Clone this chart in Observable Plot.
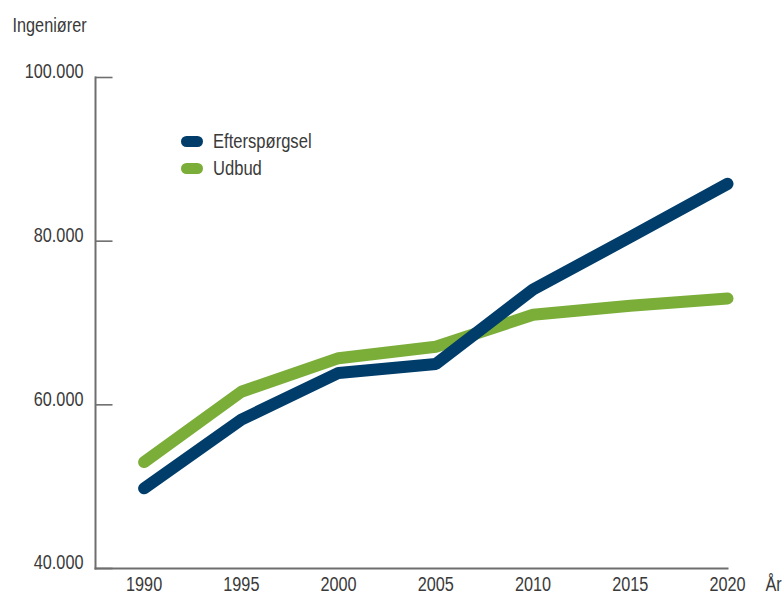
<!DOCTYPE html>
<html>
<head>
<meta charset="utf-8">
<script src="https://cdn.jsdelivr.net/npm/d3@7"></script>
<script src="https://cdn.jsdelivr.net/npm/@observablehq/plot@0.6"></script>
<style>
  html, body { margin: 0; padding: 0; background: #fff; }
  #wrap { position: relative; width: 783px; height: 597px; font-family: "Liberation Sans", Arial, sans-serif; color: #3a3a3a; }
  .leg { position: absolute; left: 181px; height: 20px; display: flex; align-items: center; font-size: 19.5px; line-height: 20px; white-space: nowrap; }
  .pill { display: inline-block; width: 22px; height: 11px; border-radius: 6px; margin-right: 10px; flex: none; }
  .lab { display: inline-block; transform: scaleX(0.85); transform-origin: 0 50%; }
</style>
</head>
<body>
<div id="wrap"></div>
<script>
const years = [1990, 1995, 2000, 2005, 2010, 2015, 2020];
const efterspoergsel = [49800, 58200, 63900, 65000, 74100, 80500, 87000];
const udbud = [53000, 61600, 65700, 67100, 71000, 72100, 73000];
const seriesNames = ["Efterspørgsel", "Udbud"];
const seriesColors = ["#003d6b", "#7bae38"];
const yTicks = [40000, 60000, 80000, 100000];
const xTicks = years;
const yTitle = "Ingeniører";
const xTitle = "År";

const rows = [];
years.forEach((yr, i) => {
  rows.push({year: yr, value: efterspoergsel[i], series: seriesNames[0]});
  rows.push({year: yr, value: udbud[i], series: seriesNames[1]});
});

const fmt = d3.formatLocale({decimal: ",", thousands: ".", grouping: [3], currency: ["", ""]}).format(",d");
const axisColor = "#6e6e6e";
const textColor = "#3a3a3a";
const fontFam = '"Liberation Sans", Arial, sans-serif';
const narrow = 0.775;
const fs = 21;

const chart = Plot.plot({
  width: 783,
  height: 597,
  marginLeft: 95,
  marginRight: 56,
  marginTop: 77,
  marginBottom: 29,
  style: {fontFamily: fontFam, color: textColor, background: "#fff"},
  x: {domain: [1987.5, 2020], axis: null},
  y: {domain: [40000, 100000], axis: null},
  color: {domain: seriesNames, range: seriesColors},
  marks: [
    Plot.frame({anchor: "left", stroke: axisColor, strokeWidth: 2}),
    Plot.frame({anchor: "bottom", stroke: axisColor, strokeWidth: 2}),
    Plot.ruleY(yTicks, {stroke: axisColor, strokeWidth: 1.6, insetRight: 614.5}),
    Plot.ruleX(xTicks, {stroke: axisColor, strokeWidth: 1.6, insetTop: 491}),
    Plot.text(yTicks, {
      frameAnchor: "left", y: d => d, text: d => fmt(d),
      textAnchor: "end", lineAnchor: "middle", dx: -12, dy: -6, fontSize: fs, fill: textColor
    }),
    Plot.text(xTicks, {
      x: d => d, frameAnchor: "bottom", text: d => String(d),
      lineAnchor: "top", dy: 8, fontSize: fs, fill: textColor
    }),
    Plot.text([xTitle], {
      frameAnchor: "bottom-right", text: d => d, textAnchor: "start",
      lineAnchor: "top", dx: 38, dy: 8, fontSize: fs, fill: textColor
    }),
    Plot.text([yTitle], {
      frameAnchor: "top-left", text: d => d, textAnchor: "start",
      lineAnchor: "middle", dx: -83, dy: -52.5, fontSize: fs, fill: textColor
    }),
    Plot.line(rows.filter(d => d.series === seriesNames[1]), {
      x: "year", y: "value", stroke: "series", strokeWidth: 12,
      strokeLinecap: "round", strokeLinejoin: "miter"
    }),
    Plot.line(rows.filter(d => d.series === seriesNames[0]), {
      x: "year", y: "value", stroke: "series", strokeWidth: 12,
      strokeLinecap: "round", strokeLinejoin: "miter"
    })
  ]
});

// condense the text horizontally around each anchor point (mimics a condensed typeface)
chart.querySelectorAll("text").forEach(t => {
  const tr = t.getAttribute("transform") || "";
  const x = parseFloat(t.getAttribute("x")) || 0;
  t.setAttribute("transform", `${tr} translate(${x},0) scale(${narrow},1) translate(${-x},0)`);
});

const wrap = document.getElementById("wrap");
wrap.appendChild(chart);

const legTops = [131, 158];
seriesNames.forEach((name, i) => {
  const item = document.createElement("div");
  item.className = "leg";
  item.style.top = legTops[i] + "px";
  const pill = document.createElement("span");
  pill.className = "pill";
  pill.style.background = seriesColors[i];
  const lab = document.createElement("span");
  lab.className = "lab";
  lab.textContent = name;
  item.appendChild(pill);
  item.appendChild(lab);
  wrap.appendChild(item);
});
</script>
</body>
</html>
